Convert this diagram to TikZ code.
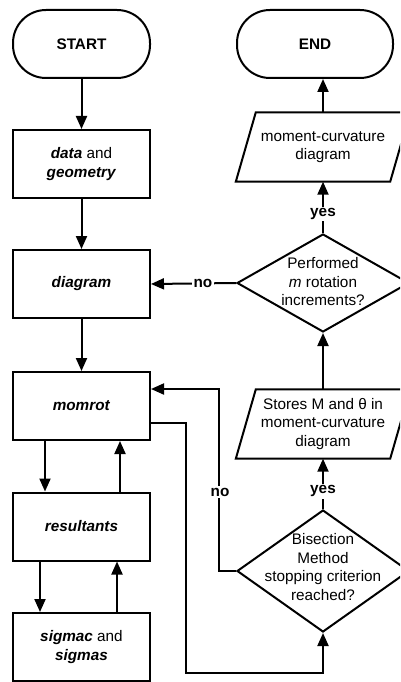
\documentclass[tikz,border=0pt]{standalone}
\usepackage{fontspec}
\setmainfont{Liberation Sans}
\usetikzlibrary{arrows.meta,shapes.geometric}
\tikzset{
  every node/.style={font=\fontsize{15.3}{18.5}\selectfont},
  terminal/.style={draw,line width=2pt,rounded corners=33pt,minimum height=68pt,font=\fontsize{15.3}{18.5}\selectfont\bfseries},
  process/.style={draw,line width=2pt,minimum width=137pt,minimum height=68pt,align=center},
  inout/.style={minimum width=154pt,minimum height=69pt,inner sep=0pt,align=center},
  decision/.style={draw,line width=2pt,diamond,inner sep=0pt,minimum width=172pt},
  lbl/.style={fill=white,inner sep=1.5pt,font=\fontsize{15.3}{18.5}\selectfont\bfseries},
  arr/.style={line width=2pt,-{Triangle[length=13pt,width=11pt]}}
}
\begin{document}
\begin{tikzpicture}[x=1pt,y=-1pt]
  \useasboundingbox (0,0) rectangle (400,682);
  \clip (0,0) rectangle (400,682);
  % columna izquierda
  \node[terminal,minimum width=137pt] (start) at (81.5,44) {START};
  \node[process] (data) at (81.5,164) {\textbf{\textit{data}} and\\\textbf{\textit{geometry}}};
  \node[process] (diagram) at (81.5,284) {\textbf{\textit{diagram}}};
  \node[process] (momrot) at (81.5,406) {\textbf{\textit{momrot}}};
  \node[process] (result) at (81.5,526.5) {\textbf{\textit{resultants}}};
  \node[process] (sigmac) at (81.5,647) {\textbf{\textit{sigmac}} and\\\textbf{\textit{sigmas}}};
  % columna derecha
  \node[terminal,minimum width=156pt] (end) at (315,44) {END};
  \node[inout] (curve) at (323,147) {moment-curvature\\diagram};
  \node[decision,minimum height=98pt] (perf) at (323,283) {};
  \node[align=center] (perftext) at (323,282) {Performed\\\textit{m} rotation\\increments?};
  \node[inout] (store) at (323,424) {Stores M and θ in\\moment-curvature\\diagram};
  \node[decision,minimum height=122pt] (bisec) at (323,571) {};
  \node[align=center] (bisectext) at (323,567) {Bisection\\Method\\stopping criterion\\reached?};
  % paralelogramos
  \foreach \p in {curve,store}
    \draw[line width=2pt,line join=miter] ([xshift=-10pt]\p.south west) -- ([xshift=10pt]\p.north west)
      -- ([xshift=10pt]\p.north east) -- ([xshift=-10pt]\p.south east) -- cycle;
  \coordinate (loopa) at (219,389);
  \coordinate (loopb) at (186,673);
  % flechas
  \draw[arr] (start) -- (data);
  \draw[arr] (data) -- (diagram);
  \draw[arr] (diagram) -- (momrot);
  \draw[arr] ([xshift=-36.5pt]momrot.south) -- ([xshift=-36.5pt]result.north);
  \draw[arr] ([xshift=38.5pt]result.north) -- ([xshift=38.5pt]momrot.south);
  \draw[arr] ([xshift=-41.5pt]result.south) -- ([xshift=-41.5pt]sigmac.north);
  \draw[arr] ([xshift=35.5pt]sigmac.north) -- ([xshift=35.5pt]result.south);
  \draw[arr] ([yshift=-17pt]momrot.east) -| (loopb) -| (bisec.south);
  \draw[arr] (bisec.west) -| (loopa) -- ([yshift=17pt]momrot.east);
  \node[lbl] (no2) at (220,492) {no};
  \draw[arr] (bisec.north) -- node[lbl,pos=0.35] (yes2) {yes} (store.south);
  \draw[arr] (store.north) -- (perf.south);
  \draw[arr] (perf.north) -- node[lbl,pos=0.37] (yes1) {yes} (curve.south);
  \draw[arr] (perf.west) -- node[lbl,pos=0.39] (no1) {no} (diagram.east);
  \draw[arr] (curve.north) -- (curve.north |- end.south);
\end{tikzpicture}
\end{document}
